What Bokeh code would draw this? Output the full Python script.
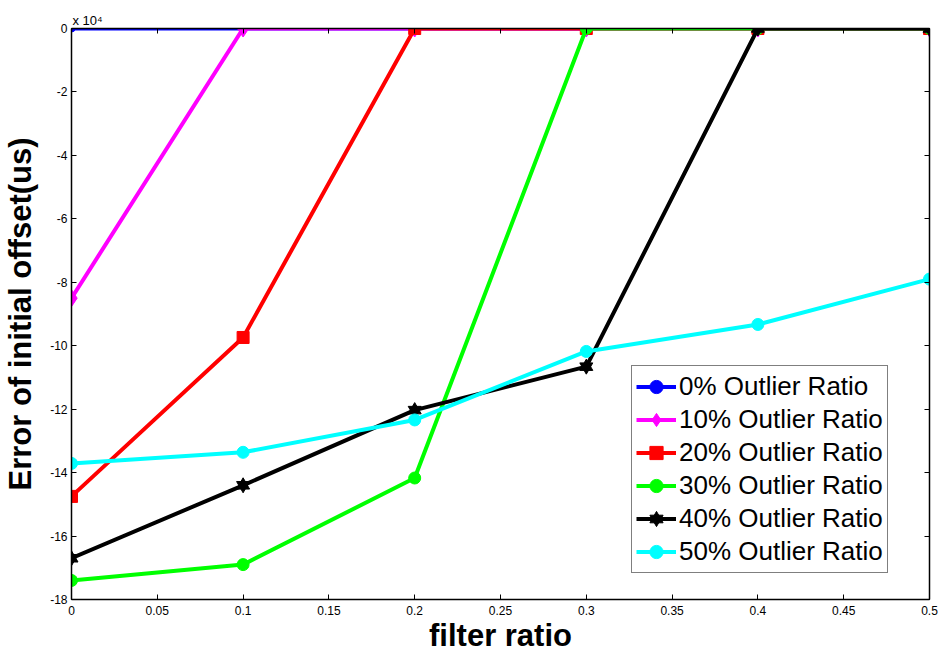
from bokeh.plotting import figure
from bokeh.models import (Range1d, LinearAxis, FixedTicker, Legend, LegendItem, Title,
                          CustomJSTickFormatter)
from bokeh.embed import file_html
from bokeh.resources import INLINE

# ---- data (error of initial offset, in units of 10^4 us) ----
filter_ratio = [0.0, 0.1, 0.2, 0.3, 0.4, 0.5]
err_0 = [0, 0, 0, 0, 0, 0]
err_10 = [-8.5, 0, 0, 0, 0, 0]
err_20 = [-14.75, -9.74, 0, 0, 0, 0]
err_30 = [-17.4, -16.9, -14.17, 0, 0, 0]
err_40 = [-16.7, -14.4, -12.03, -10.66, 0, 0]
err_50 = [-13.71, -13.36, -12.34, -10.18, -9.33, -7.9]
series_names = ["0% Outlier Ratio", "10% Outlier Ratio", "20% Outlier Ratio",
                "30% Outlier Ratio", "40% Outlier Ratio", "50% Outlier Ratio"]

x_ticks = [0, 0.05, 0.1, 0.15, 0.2, 0.25, 0.3, 0.35, 0.4, 0.45, 0.5]
x_tick_labels = ["0", "0.05", "0.1", "0.15", "0.2", "0.25", "0.3", "0.35", "0.4", "0.45", "0.5"]
y_ticks = [-18, -16, -14, -12, -10, -8, -6, -4, -2, 0]
y_tick_labels = ["-18", "-16", "-14", "-12", "-10", "-8", "-6", "-4", "-2", "0"]

FONT = "Liberation Sans"

p = figure(width=939, height=655, output_backend="svg", toolbar_location=None,
           x_range=Range1d(0, 0.5), y_range=Range1d(-18, 0),
           min_border_left=69, min_border_right=10, min_border_top=28, min_border_bottom=54)
p.background_fill_color = "white"
p.border_fill_color = "white"
p.xgrid.visible = False
p.ygrid.visible = False
p.outline_line_color = "black"
p.outline_line_width = 1


def style_axis(ax, show_labels=True):
    ax.major_tick_in = 5
    ax.major_tick_out = 0
    ax.minor_tick_line_color = None
    ax.axis_line_color = "black"
    ax.axis_line_width = 1.5
    ax.major_tick_line_color = "black"
    ax.major_label_text_font = FONT
    ax.major_label_text_font_size = "12px"
    ax.major_label_text_color = "black"
    if not show_labels:
        ax.formatter = CustomJSTickFormatter(code="return ''")
        ax.major_label_standoff = 0


p.xaxis.ticker = FixedTicker(ticks=x_ticks)
p.xaxis.major_label_overrides = {t: l for t, l in zip(x_ticks, x_tick_labels)}
p.yaxis.ticker = FixedTicker(ticks=y_ticks)
p.yaxis.major_label_overrides = {t: l for t, l in zip(y_ticks, y_tick_labels)}
style_axis(p.xaxis[0])
style_axis(p.yaxis[0])
p.xaxis.major_label_standoff = 6
p.yaxis.major_label_standoff = 4

p.xaxis.axis_label = "filter ratio"
p.yaxis.axis_label = "Error of initial offset(us)"
for ax in (p.xaxis[0], p.yaxis[0]):
    ax.axis_label_text_font = FONT
    ax.axis_label_text_font_style = "bold"
    ax.axis_label_text_font_size = "31px"
    ax.axis_label_text_color = "black"
p.xaxis.axis_label_standoff = 0
p.yaxis.axis_label_standoff = 9

top_ax = LinearAxis(ticker=FixedTicker(ticks=x_ticks))
right_ax = LinearAxis(ticker=FixedTicker(ticks=y_ticks))
style_axis(top_ax, show_labels=False)
style_axis(right_ax, show_labels=False)
p.add_layout(top_ax, "above")
p.add_layout(right_ax, "right")

# exponent of the y axis, as in MATLAB
p.add_layout(Title(text="x 10\u2074", align="left", text_font=FONT, text_font_size="13px",
                   text_font_style="normal", text_color="black", offset=1, standoff=2), "above")

items = []
LW = 4

# 0%
r_l = p.line(filter_ratio, err_0, line_color="#0000FF", line_width=LW)
r_m = p.scatter(filter_ratio, err_0, marker="circle", size=7, fill_color="#0000FF", line_color="#0000FF")
items.append(LegendItem(label=series_names[0], renderers=[r_l, r_m]))
# 10%
r_l = p.line(filter_ratio, err_10, line_color="#FF00FF", line_width=LW)
r_m = p.scatter(filter_ratio, err_10, marker="diamond", size=17, fill_color="#FF00FF", line_color="#FF00FF")
items.append(LegendItem(label=series_names[1], renderers=[r_l, r_m]))
# 20%
r_l = p.line(filter_ratio, err_20, line_color="#FF0000", line_width=LW)
r_m = p.scatter(filter_ratio, err_20, marker="square", size=12, fill_color="#FF0000", line_color="#FF0000")
items.append(LegendItem(label=series_names[2], renderers=[r_l, r_m]))
# 30%
r_l = p.line(filter_ratio, err_30, line_color="#00FF00", line_width=LW)
r_m = p.scatter(filter_ratio, err_30, marker="circle", size=12, fill_color="#00FF00", line_color="#00FF00")
items.append(LegendItem(label=series_names[3], renderers=[r_l, r_m]))
# 40%
r_l = p.line(filter_ratio, err_40, line_color="black", line_width=LW)
r_t1 = p.scatter(filter_ratio, err_40, marker="triangle", size=13, fill_color="black", line_color="black")
r_t2 = p.scatter(filter_ratio, err_40, marker="inverted_triangle", size=13, fill_color="black", line_color="black")
items.append(LegendItem(label=series_names[4], renderers=[r_l, r_t1, r_t2]))
# 50%
r_l = p.line(filter_ratio, err_50, line_color="#00FFFF", line_width=LW)
r_m = p.scatter(filter_ratio, err_50, marker="circle", size=12, fill_color="#00FFFF", line_color="#00FFFF")
items.append(LegendItem(label=series_names[5], renderers=[r_l, r_m]))

legend = Legend(items=items, location=(560, 26))
legend.label_text_font = FONT
legend.label_text_font_size = "26px"
legend.label_text_color = "black"
legend.glyph_width = 40
legend.glyph_height = 33
legend.label_height = 33
legend.label_standoff = 3
legend.spacing = 0
legend.padding = 4
legend.margin = 0
legend.border_line_color = "black"
legend.border_line_width = 1
legend.background_fill_color = "white"
legend.background_fill_alpha = 1.0
p.add_layout(legend, "center")

open("out.html", "w").write(file_html(p, INLINE))
